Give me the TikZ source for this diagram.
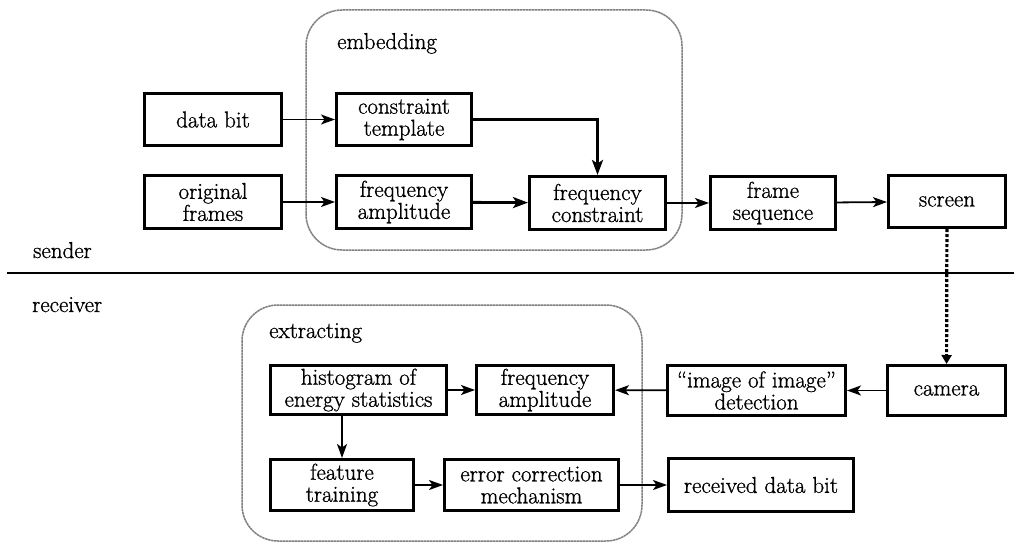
\documentclass[tikz,border=0pt]{standalone}
\usepackage{fontspec}
\newfontfamily\figfont{Latin Modern Roman}[Ligatures=TeX,FakeBold=1.0]
\usetikzlibrary{arrows.meta}
\begin{document}
\begin{tikzpicture}[x=1pt,y=-1pt,
  every node/.style={font=\figfont\fontsize{23}{22}\selectfont},
  box/.style={draw, line width=3pt, align=center, inner sep=0pt, minimum width=#1},
  box/.default=140pt,
  container/.style={draw=black!50, line width=1.5pt, dash pattern=on 2.5pt off 0.5pt, rounded corners=36pt},
  arr/.style={line width=1.8pt, -{Stealth[length=14pt,width=10pt,inset=3.5pt]}},
  tarr/.style={line width=2.8pt, -{Stealth[length=15pt,width=11pt,inset=3.5pt]}},
  dotarr/.style={line width=3.2pt, dash pattern=on 3pt off 2pt, -{Triangle[length=9pt,width=10pt]}},
  lbl/.style={anchor=base west, inner sep=0pt}
]
\useasboundingbox (0,0) rectangle (1014,543);

% containers
\draw[container] (306,10) rectangle (682,250);
\draw[container] (242,305) rectangle (642,541);
\node[lbl] (emb) at (337,49) {embedding};
\node[lbl] (ext) at (269,338) {extracting};

% sender / receiver
\coordinate (sepL) at (7,273);
\coordinate (sepR) at (1014,273);
\draw[line width=2.4pt] (sepL) -- (sepR);
\node[lbl] (snd) at (33,258) {sender};
\node[lbl] (rcv) at (32,312) {receiver};

% sender boxes
\node[box=137pt, minimum height=52pt] (databit) at (213,119.5) {data bit};
\node[box=137pt, minimum height=53pt] (orig) at (213,202) {original\\frames};
\node[box=135pt, minimum height=52pt] (ctemp) at (404,119.5) {constraint\\template};
\node[box=135pt, minimum height=53pt] (famp1) at (404,202) {frequency\\amplitude};
\node[box=136pt, minimum height=53pt] (fcons) at (597.5,203) {frequency\\constraint};
\node[box=125pt, minimum height=53pt] (fseq) at (773,203) {frame\\sequence};
\node[box=117pt, minimum height=52pt] (screen) at (947,201.5) {screen};

% receiver boxes
\node[box=118pt, minimum height=50pt] (camera) at (946.5,390.5) {camera};
\node[box=178pt, minimum height=50pt] (iid) at (756.5,390.5) {“image of image”\\detection};
\node[box=137pt, minimum height=49pt] (famp2) at (545,390) {frequency\\amplitude};
\node[box=176pt, minimum height=49pt] (hist) at (358.5,390) {histogram of\\energy statistics};
\node[box=143pt, minimum height=51pt] (feat) at (342,485) {feature\\training};
\node[box=174pt, minimum height=51pt] (err) at (531.5,485) {error correction\\mechanism};
\node[box=185pt, minimum height=53pt] (recv) at (761,485) {received data bit};

% sender arrows
\draw[arr] (databit) -- (ctemp);
\draw[arr] (orig) -- (famp1);
\draw[tarr] (ctemp.east) -| (fcons.north);
\draw[tarr] (famp1) -- (fcons);
\draw[arr] (fcons) -- (fseq);
\draw[arr] (fseq) -- (screen);
\draw[dotarr] (screen) -- (camera);

% receiver arrows
\draw[arr] (camera) -- (iid);
\draw[arr] (iid) -- (famp2);
\draw[arr] (hist) -- (famp2);
\draw[arr] (hist.south -| feat.north) -- (feat.north);
\draw[arr] (feat) -- (err);
\draw[arr] (err) -- (recv);
\end{tikzpicture}
\end{document}
